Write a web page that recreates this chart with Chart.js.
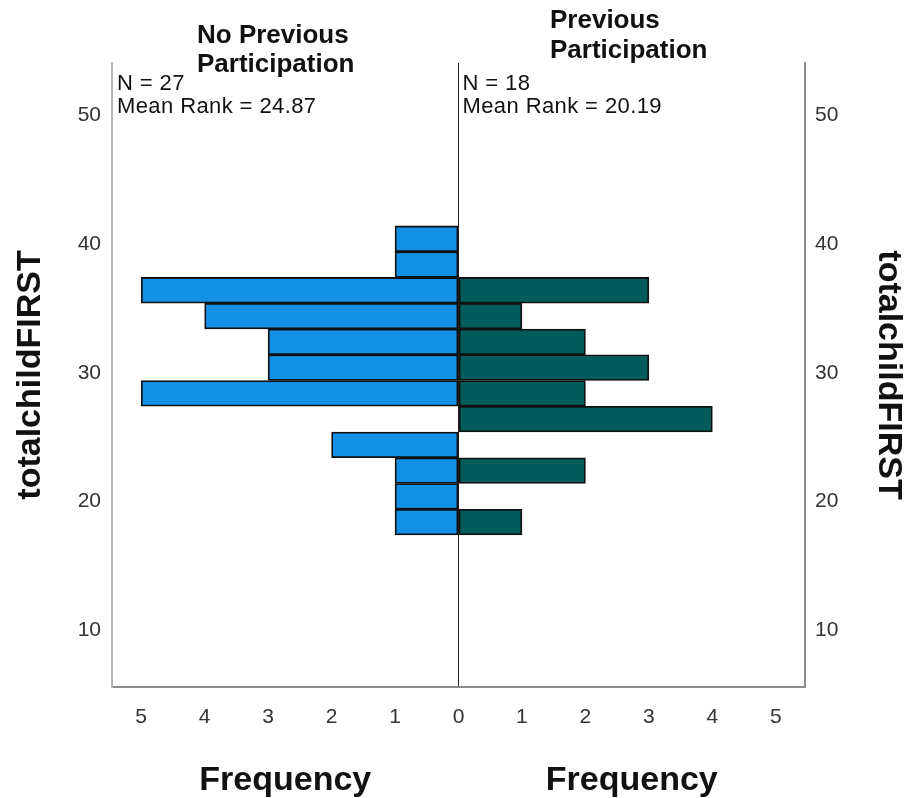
<!DOCTYPE html>
<html>
<head>
<meta charset="utf-8">
<script src="https://cdn.jsdelivr.net/npm/chart.js@4/dist/chart.umd.min.js"></script>
<style>
  html, body { margin: 0; padding: 0; background: #fff; }
  #wrap { width: 908px; height: 798px; position: relative; }
</style>
</head>
<body>
<div id="wrap"><canvas id="chart"></canvas></div>
<script>
// Histograma espejo: totalchildFIRST por grupo (Mann-Whitney)

// Datos
const binCenters = [40.4, 38.4, 36.4, 34.4, 32.4, 30.4, 28.4, 26.4, 24.4, 22.4, 20.4, 18.4];
const noPrevCounts = [1, 1, 5, 4, 3, 3, 5, 0, 2, 1, 1, 1];
const prevCounts   = [0, 0, 3, 1, 2, 3, 2, 4, 0, 2, 0, 1];
const yTicks = [10, 20, 30, 40, 50];
const freqTicks = [0, 1, 2, 3, 4, 5];
const groupTitles = [['No Previous', 'Participation'], ['Previous', 'Participation']];
const groupN = [27, 18];
const meanRanks = ['24.87', '20.19'];

const Y_MIN = 5.6, Y_MAX = 54.05;
const FONT = "'Liberation Sans', Arial, Helvetica, sans-serif";
const xTicks = freqTicks.slice(1).reverse().map(v => -v).concat(freqTicks);

// Textos de los paneles (títulos, N, rango medio, Frequency)
const panelText = {
    id: 'panelText',
    afterDraw(chart) {
        const ctx = chart.ctx;
        const area = chart.chartArea;
        const mid = chart.scales.x.getPixelForValue(0);
        ctx.save();
        ctx.fillStyle = '#111';
        ctx.textBaseline = 'alphabetic';

        // títulos de grupo
        ctx.font = 'bold 26px ' + FONT;
        ctx.textAlign = 'left';
        ctx.fillText(groupTitles[0][0], 197, 43);
        ctx.fillText(groupTitles[0][1], 197, 72);
        ctx.fillText(groupTitles[1][0], 550, 28);
        ctx.fillText(groupTitles[1][1], 550, 58);

        // N y rango medio
        ctx.font = '22px ' + FONT;
        ctx.letterSpacing = '0.4px';
        ctx.fillText('N = ' + groupN[0], area.left + 5, 90);
        ctx.fillText('Mean Rank = ' + meanRanks[0], area.left + 5, 113);
        ctx.fillText('N = ' + groupN[1], mid + 4, 90);
        ctx.fillText('Mean Rank = ' + meanRanks[1], mid + 4, 113);
        ctx.letterSpacing = '0px';

        // títulos del eje x
        ctx.font = 'bold 34px ' + FONT;
        ctx.textAlign = 'center';
        ctx.fillText('Frequency', (area.left + mid) / 2, 790);
        ctx.fillText('Frequency', (mid + area.right) / 2, 790);
        ctx.restore();
    }
};

function barData(counts, sign) {
    return binCenters.map((c, i) => ({ y: c, x: sign * counts[i] }));
}

const yTitle = {
    display: true,
    text: 'totalchildFIRST',
    color: '#111',
    font: { family: FONT, size: 34, weight: 'bold', lineHeight: 1 }
};

const tickFont = { family: FONT, size: 21 };

function fixRange(s) {
    s.min = Y_MIN;
    s.max = Y_MAX;
}

new Chart(document.getElementById('chart').getContext('2d'), {
    type: 'bar',
    data: {
        datasets: [{
            label: 'No Previous Participation',
            data: barData(noPrevCounts, -1),
            backgroundColor: '#1490E6',
            borderColor: '#111',
            borderWidth: 1.8,
            borderSkipped: false,
            grouped: false,
            barPercentage: 1,
            categoryPercentage: 1
        }, {
            label: 'Previous Participation',
            data: barData(prevCounts, 1),
            backgroundColor: '#015C5B',
            borderColor: '#111',
            borderWidth: 1.8,
            borderSkipped: false,
            grouped: false,
            barPercentage: 1,
            categoryPercentage: 1
        }]
    },
    options: {
        indexAxis: 'y',
        responsive: true,
        maintainAspectRatio: false,
        animation: false,
        layout: { padding: { top: 63, left: 0, right: 0, bottom: 0 } },
        plugins: {
            legend: { display: false },
            tooltip: { enabled: false }
        },
        scales: {
            x: {
                type: 'linear',
                min: -5.46,
                max: 5.46,
                offset: false,
                afterBuildTicks: s => { s.ticks = xTicks.map(v => ({ value: v })); },
                afterFit: s => { s.height = 111; },
                grid: {
                    drawTicks: false,
                    lineWidth: 1,
                    color: c => (c.tick && c.tick.value === 0) ? '#222' : 'rgba(0,0,0,0)'
                },
                border: { color: '#8c8c8c', width: 2 },
                ticks: {
                    padding: 18,
                    color: '#333',
                    font: tickFont,
                    maxRotation: 0,
                    autoSkip: false,
                    callback: v => Math.abs(v)
                }
            },
            y: {
                type: 'linear',
                position: 'left',
                min: Y_MIN,
                max: Y_MAX,
                offset: false,
                afterDataLimits: fixRange,
                afterBuildTicks: s => { s.ticks = yTicks.map(v => ({ value: v })); },
                afterFit: s => { s.width = 112; },
                grid: { display: false, drawTicks: false },
                border: { color: '#b5b5b5', width: 2 },
                ticks: { padding: 11, color: '#333', font: tickFont },
                title: Object.assign({}, yTitle, { padding: { top: 14, bottom: 0 } })
            },
            y2: {
                type: 'linear',
                position: 'right',
                min: Y_MIN,
                max: Y_MAX,
                offset: false,
                afterDataLimits: fixRange,
                afterBuildTicks: s => { s.ticks = yTicks.map(v => ({ value: v })); },
                afterFit: s => { s.width = 103; },
                grid: { display: false, drawTicks: false },
                border: { color: '#8c8c8c', width: 2 },
                ticks: { padding: 10, color: '#333', font: tickFont },
                title: Object.assign({}, yTitle, { padding: { top: 3, bottom: 0 } })
            }
        }
    },
    plugins: [panelText]
});
</script>
</body>
</html>
